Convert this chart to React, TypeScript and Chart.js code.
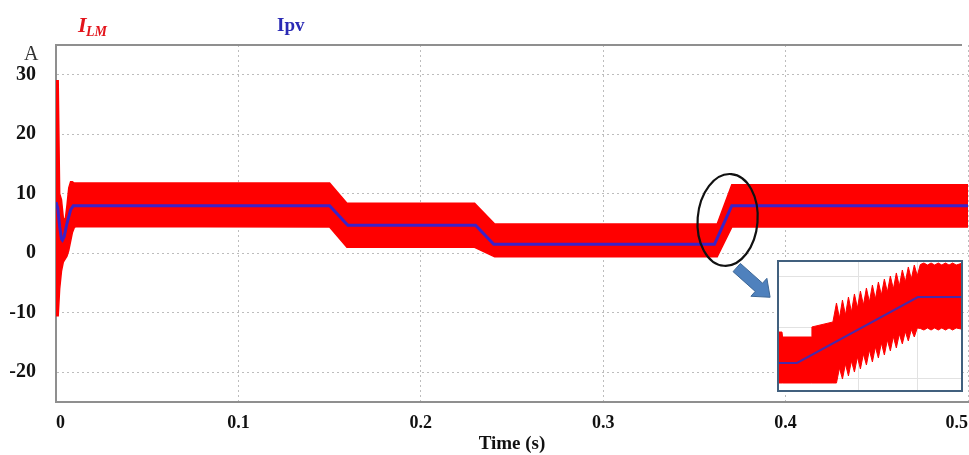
import React, { useEffect, useRef } from 'react';
import { Chart, registerables } from 'chart.js';

Chart.register(...registerables);

// ---------- Main chart data ----------
const xTickValues = [0, 0.1, 0.2, 0.3, 0.4, 0.5];
const yTickValues = [-20, -10, 0, 10, 20, 30];

// I_LM envelope (upper / lower edge of the switching ripple band)
const ilmTime = [0, 0.0004, 0.0012, 0.002, 0.003, 0.004, 0.005, 0.006, 0.007, 0.008, 0.009, 0.010, 0.011, 0.150, 0.1595, 0.2295, 0.2405, 0.3625, 0.3705, 0.5];
const ilmUpper = [10, 29, 29, 10, 9, 6, 5.5, 8, 11, 12, 12, 11.8, 11.8, 11.8, 8.4, 8.4, 4.9, 4.9, 11.5, 11.5];
const ilmLower = [8, -10.5, -10.5, -6, -3, -1.5, -1, -0.5, 0.5, 2, 3.5, 4.3, 4.5, 4.4, 1.0, 1.0, -0.6, -0.6, 4.4, 4.4];

// Ipv
const ipvTime = [0, 0.001, 0.002, 0.003, 0.0035, 0.0045, 0.006, 0.008, 0.0095, 0.150, 0.160, 0.230, 0.240, 0.361, 0.3705, 0.5];
const ipvValues = [8.6, 7.5, 4.5, 2.4, 2.2, 2.8, 5, 7.3, 8, 8, 4.7, 4.7, 1.5, 1.5, 8, 8];

// Annotation (ellipse around the last transition, arrow towards the inset), in data units
const ellipseCenter = [0.3682, 5.6];
const ellipseRadius = [0.01644, 7.73];
const arrowTail = [0.3732, -2.4];
const arrowTip = [0.3915, -7.4];

// ---------- Inset (zoomed transition) data ----------
const insetXTicks = [0.365, 0.37];
const insetYTicks = [0, 5, 10];
const insetTime = [
  0.3584, 0.35865, 0.3587, 0.3611, 0.36115, 0.3629,
  0.3632, 0.36345, 0.3637, 0.36395, 0.3642, 0.36445, 0.3647, 0.36495, 0.3652, 0.36545,
  0.3657, 0.36595, 0.3662, 0.36645, 0.3667, 0.36695, 0.3672, 0.36745, 0.3677, 0.36795,
  0.3682, 0.36845, 0.3687, 0.36895, 0.3692, 0.36945, 0.3697, 0.36995,
  0.3702, 0.3705, 0.3708, 0.3711, 0.3714, 0.3717, 0.372, 0.3723, 0.3726, 0.3729, 0.3732, 0.3736,
];
const insetUpper = [
  4.55, 4.55, 4.06, 4.06, 5.05, 5.54,
  7.41, 5.93, 7.7, 6.23, 8.0, 6.52, 8.3, 6.92, 8.59, 7.21,
  8.89, 7.51, 9.18, 7.8, 9.48, 8.2, 9.77, 8.49, 10.07, 8.79,
  10.37, 9.09, 10.66, 9.48, 10.96, 9.77, 11.15, 10.1,
  11.2, 11.35, 11.15, 11.35, 11.15, 11.35, 11.15, 11.35, 11.15, 11.35, 11.15, 11.3,
];
const insetLower = [
  -0.47, -0.47, -0.47, -0.47, -0.47, -0.47,
  -0.47, 1.01, -0.08, 1.4, 0.22, 1.7, 0.61, 2.09, 0.91, 2.39,
  1.3, 2.78, 1.6, 3.08, 1.99, 3.47, 2.29, 3.77, 2.69, 4.1,
  2.98, 4.35, 3.38, 4.6, 3.67, 4.8, 4.06, 4.95,
  4.9, 4.75, 4.95, 4.75, 4.95, 4.75, 4.95, 4.75, 4.95, 4.75, 4.95, 4.85,
];
const insetIpvTime = [0.3584, 0.3599, 0.37, 0.3736];
const insetIpvValues = [1.5, 1.5, 8.0, 8.0];

const SERIF = "'Liberation Serif', 'Times New Roman', serif";
const RED = '#ff0000';
const BLUE = '#3a22c8';

const toXY = (xs: number[], ys: number[]) => xs.map((x, i) => ({ x, y: ys[i] }));

const annotationPlugin = {
  id: 'annotations',
  afterDatasetsDraw(chart: any) {
    const { ctx, chartArea, scales } = chart;
    const x = scales.x;
    const y = scales.y;
    ctx.save();
    // top frame line
    ctx.strokeStyle = '#8f8f8f';
    ctx.lineWidth = 2;
    ctx.beginPath();
    ctx.moveTo(chartArea.left, chartArea.top);
    ctx.lineTo(chartArea.right - 6, chartArea.top);
    ctx.stroke();

    // ellipse
    const cx = x.getPixelForValue(ellipseCenter[0]);
    const cy = y.getPixelForValue(ellipseCenter[1]);
    const rx = Math.abs(x.getPixelForValue(ellipseCenter[0] + ellipseRadius[0]) - cx);
    const ry = Math.abs(y.getPixelForValue(ellipseCenter[1] + ellipseRadius[1]) - cy);
    ctx.beginPath();
    ctx.ellipse(cx, cy, rx, ry, 0.08, 0, Math.PI * 2);
    ctx.strokeStyle = '#111111';
    ctx.lineWidth = 2.2;
    ctx.stroke();

    // block arrow
    const tx = x.getPixelForValue(arrowTail[0]);
    const ty = y.getPixelForValue(arrowTail[1]);
    const hx = x.getPixelForValue(arrowTip[0]);
    const hy = y.getPixelForValue(arrowTip[1]);
    const len = Math.hypot(hx - tx, hy - ty);
    const ux = (hx - tx) / len;
    const uy = (hy - ty) / len;
    const nx = -uy;
    const ny = ux;
    const shaft = 5.5;
    const head = 12;
    const headLen = 15;
    const bx = hx - ux * headLen;
    const by = hy - uy * headLen;
    ctx.beginPath();
    ctx.moveTo(tx + nx * shaft, ty + ny * shaft);
    ctx.lineTo(bx + nx * shaft, by + ny * shaft);
    ctx.lineTo(bx + nx * head, by + ny * head);
    ctx.lineTo(hx, hy);
    ctx.lineTo(bx - nx * head, by - ny * head);
    ctx.lineTo(bx - nx * shaft, by - ny * shaft);
    ctx.lineTo(tx - nx * shaft, ty - ny * shaft);
    ctx.closePath();
    ctx.fillStyle = '#4f81bd';
    ctx.fill();
    ctx.strokeStyle = '#3d6796';
    ctx.lineWidth = 1;
    ctx.stroke();

    // series labels and unit
    ctx.textBaseline = 'alphabetic';
    ctx.textAlign = 'left';
    ctx.fillStyle = '#e3141b';
    ctx.font = `italic bold 22px ${SERIF}`;
    ctx.fillText('I', 78, 32);
    ctx.font = `italic bold 14px ${SERIF}`;
    ctx.fillText('LM', 86, 36);
    ctx.fillStyle = '#2a2ab4';
    ctx.font = `bold 19px ${SERIF}`;
    ctx.fillText('Ipv', 277, 31);
    ctx.fillStyle = '#333333';
    ctx.font = `20px ${SERIF}`;
    ctx.fillText('A', 24, 60);
    ctx.restore();
  },
};

export default function App() {
  const mainRef = useRef<HTMLCanvasElement | null>(null);
  const insetRef = useRef<HTMLCanvasElement | null>(null);

  useEffect(() => {
    document.body.style.margin = '0';

    const main = new Chart(mainRef.current as HTMLCanvasElement, {
      type: 'line',
      data: {
        datasets: [
          {
            label: 'Ipv',
            data: toXY(ipvTime, ipvValues),
            borderColor: BLUE,
            borderWidth: 3,
            pointRadius: 0,
            fill: false,
            tension: 0,
          },
          {
            label: 'I_LM max',
            data: toXY(ilmTime, ilmUpper),
            borderColor: RED,
            backgroundColor: RED,
            borderWidth: 1.5,
            pointRadius: 0,
            fill: '+1',
            tension: 0,
          },
          {
            label: 'I_LM min',
            data: toXY(ilmTime, ilmLower),
            borderColor: RED,
            borderWidth: 1.5,
            pointRadius: 0,
            fill: false,
            tension: 0,
          },
        ],
      },
      options: {
        responsive: false,
        animation: false,
        events: [],
        layout: { padding: { top: 45, right: 1, left: 0, bottom: 0 } },
        plugins: { legend: { display: false }, tooltip: { enabled: false } },
        scales: {
          x: {
            type: 'linear',
            min: 0,
            max: 0.5,
            afterBuildTicks: (s: any) => {
              s.ticks = xTickValues.map((v) => ({ value: v }));
            },
            afterFit: (s: any) => {
              s.height = 53;
              s.paddingLeft = 0;
              s.paddingRight = 0;
            },
            ticks: {
              autoSkip: false,
              maxRotation: 0,
              padding: 11,
              align: 'inner',
              color: '#111',
              font: { family: SERIF, weight: 'bold', size: 18 },
              callback: (v: any) => `${v}`,
            },
            grid: { color: '#bdbdbd', lineWidth: 1, drawTicks: false },
            border: { display: true, color: '#8f8f8f', width: 2, dash: [2, 3] },
            title: {
              display: true,
              text: 'Time (s)',
              color: '#111',
              font: { family: SERIF, weight: 'bold', size: 19 },
              padding: { top: 0, bottom: 0 },
            },
          },
          y: {
            type: 'linear',
            min: -25,
            max: 35,
            afterBuildTicks: (s: any) => {
              s.ticks = yTickValues.map((v) => ({ value: v }));
            },
            afterFit: (s: any) => {
              s.width = 56;
              s.paddingTop = 0;
              s.paddingBottom = 0;
            },
            ticks: { padding: 20, color: '#111', font: { family: SERIF, weight: 'bold', size: 20 } },
            grid: { color: '#bdbdbd', lineWidth: 1, drawTicks: false },
            border: { display: true, color: '#8f8f8f', width: 2, dash: [2, 3] },
          },
        },
      },
      plugins: [annotationPlugin],
    } as any);

    const inset = new Chart(insetRef.current as HTMLCanvasElement, {
      type: 'line',
      data: {
        datasets: [
          {
            label: 'Ipv',
            data: toXY(insetIpvTime, insetIpvValues),
            borderColor: '#4a2aa8',
            borderWidth: 2,
            pointRadius: 0,
            fill: false,
            tension: 0,
          },
          {
            label: 'I_LM max',
            data: toXY(insetTime, insetUpper),
            borderColor: RED,
            backgroundColor: RED,
            borderWidth: 1,
            pointRadius: 0,
            fill: '+1',
            tension: 0,
          },
          {
            label: 'I_LM min',
            data: toXY(insetTime, insetLower),
            borderColor: RED,
            borderWidth: 1,
            pointRadius: 0,
            fill: false,
            tension: 0,
          },
        ],
      },
      options: {
        responsive: false,
        animation: false,
        events: [],
        layout: { padding: 0 },
        plugins: { legend: { display: false }, tooltip: { enabled: false } },
        scales: {
          x: {
            type: 'linear',
            min: 0.3584,
            max: 0.3736,
            afterBuildTicks: (s: any) => {
              s.ticks = insetXTicks.map((v) => ({ value: v }));
            },
            afterFit: (s: any) => {
              s.height = 0;
              s.paddingLeft = 0;
              s.paddingRight = 0;
            },
            ticks: { display: false },
            grid: { color: '#e2e2e2', drawTicks: false },
            border: { display: false },
          },
          y: {
            type: 'linear',
            min: -1.16,
            max: 11.45,
            afterBuildTicks: (s: any) => {
              s.ticks = insetYTicks.map((v) => ({ value: v }));
            },
            afterFit: (s: any) => {
              s.width = 0;
              s.paddingTop = 0;
              s.paddingBottom = 0;
            },
            ticks: { display: false },
            grid: { color: '#e2e2e2', drawTicks: false },
            border: { display: false },
          },
        },
      },
    } as any);

    return () => {
      main.destroy();
      inset.destroy();
    };
  }, []);

  return (
    <div style={{ position: 'absolute', left: 0, top: 0, width: 969, height: 455, background: '#fff' }}>
      <canvas ref={mainRef} width={969} height={455} style={{ display: 'block' }} />
      <div
        style={{
          position: 'absolute',
          left: 777,
          top: 260,
          width: 186,
          height: 132,
          border: '2px solid #41607e',
          boxSizing: 'border-box',
          background: '#fff',
        }}
      >
        <canvas ref={insetRef} width={182} height={128} style={{ display: 'block' }} />
      </div>
    </div>
  );
}
